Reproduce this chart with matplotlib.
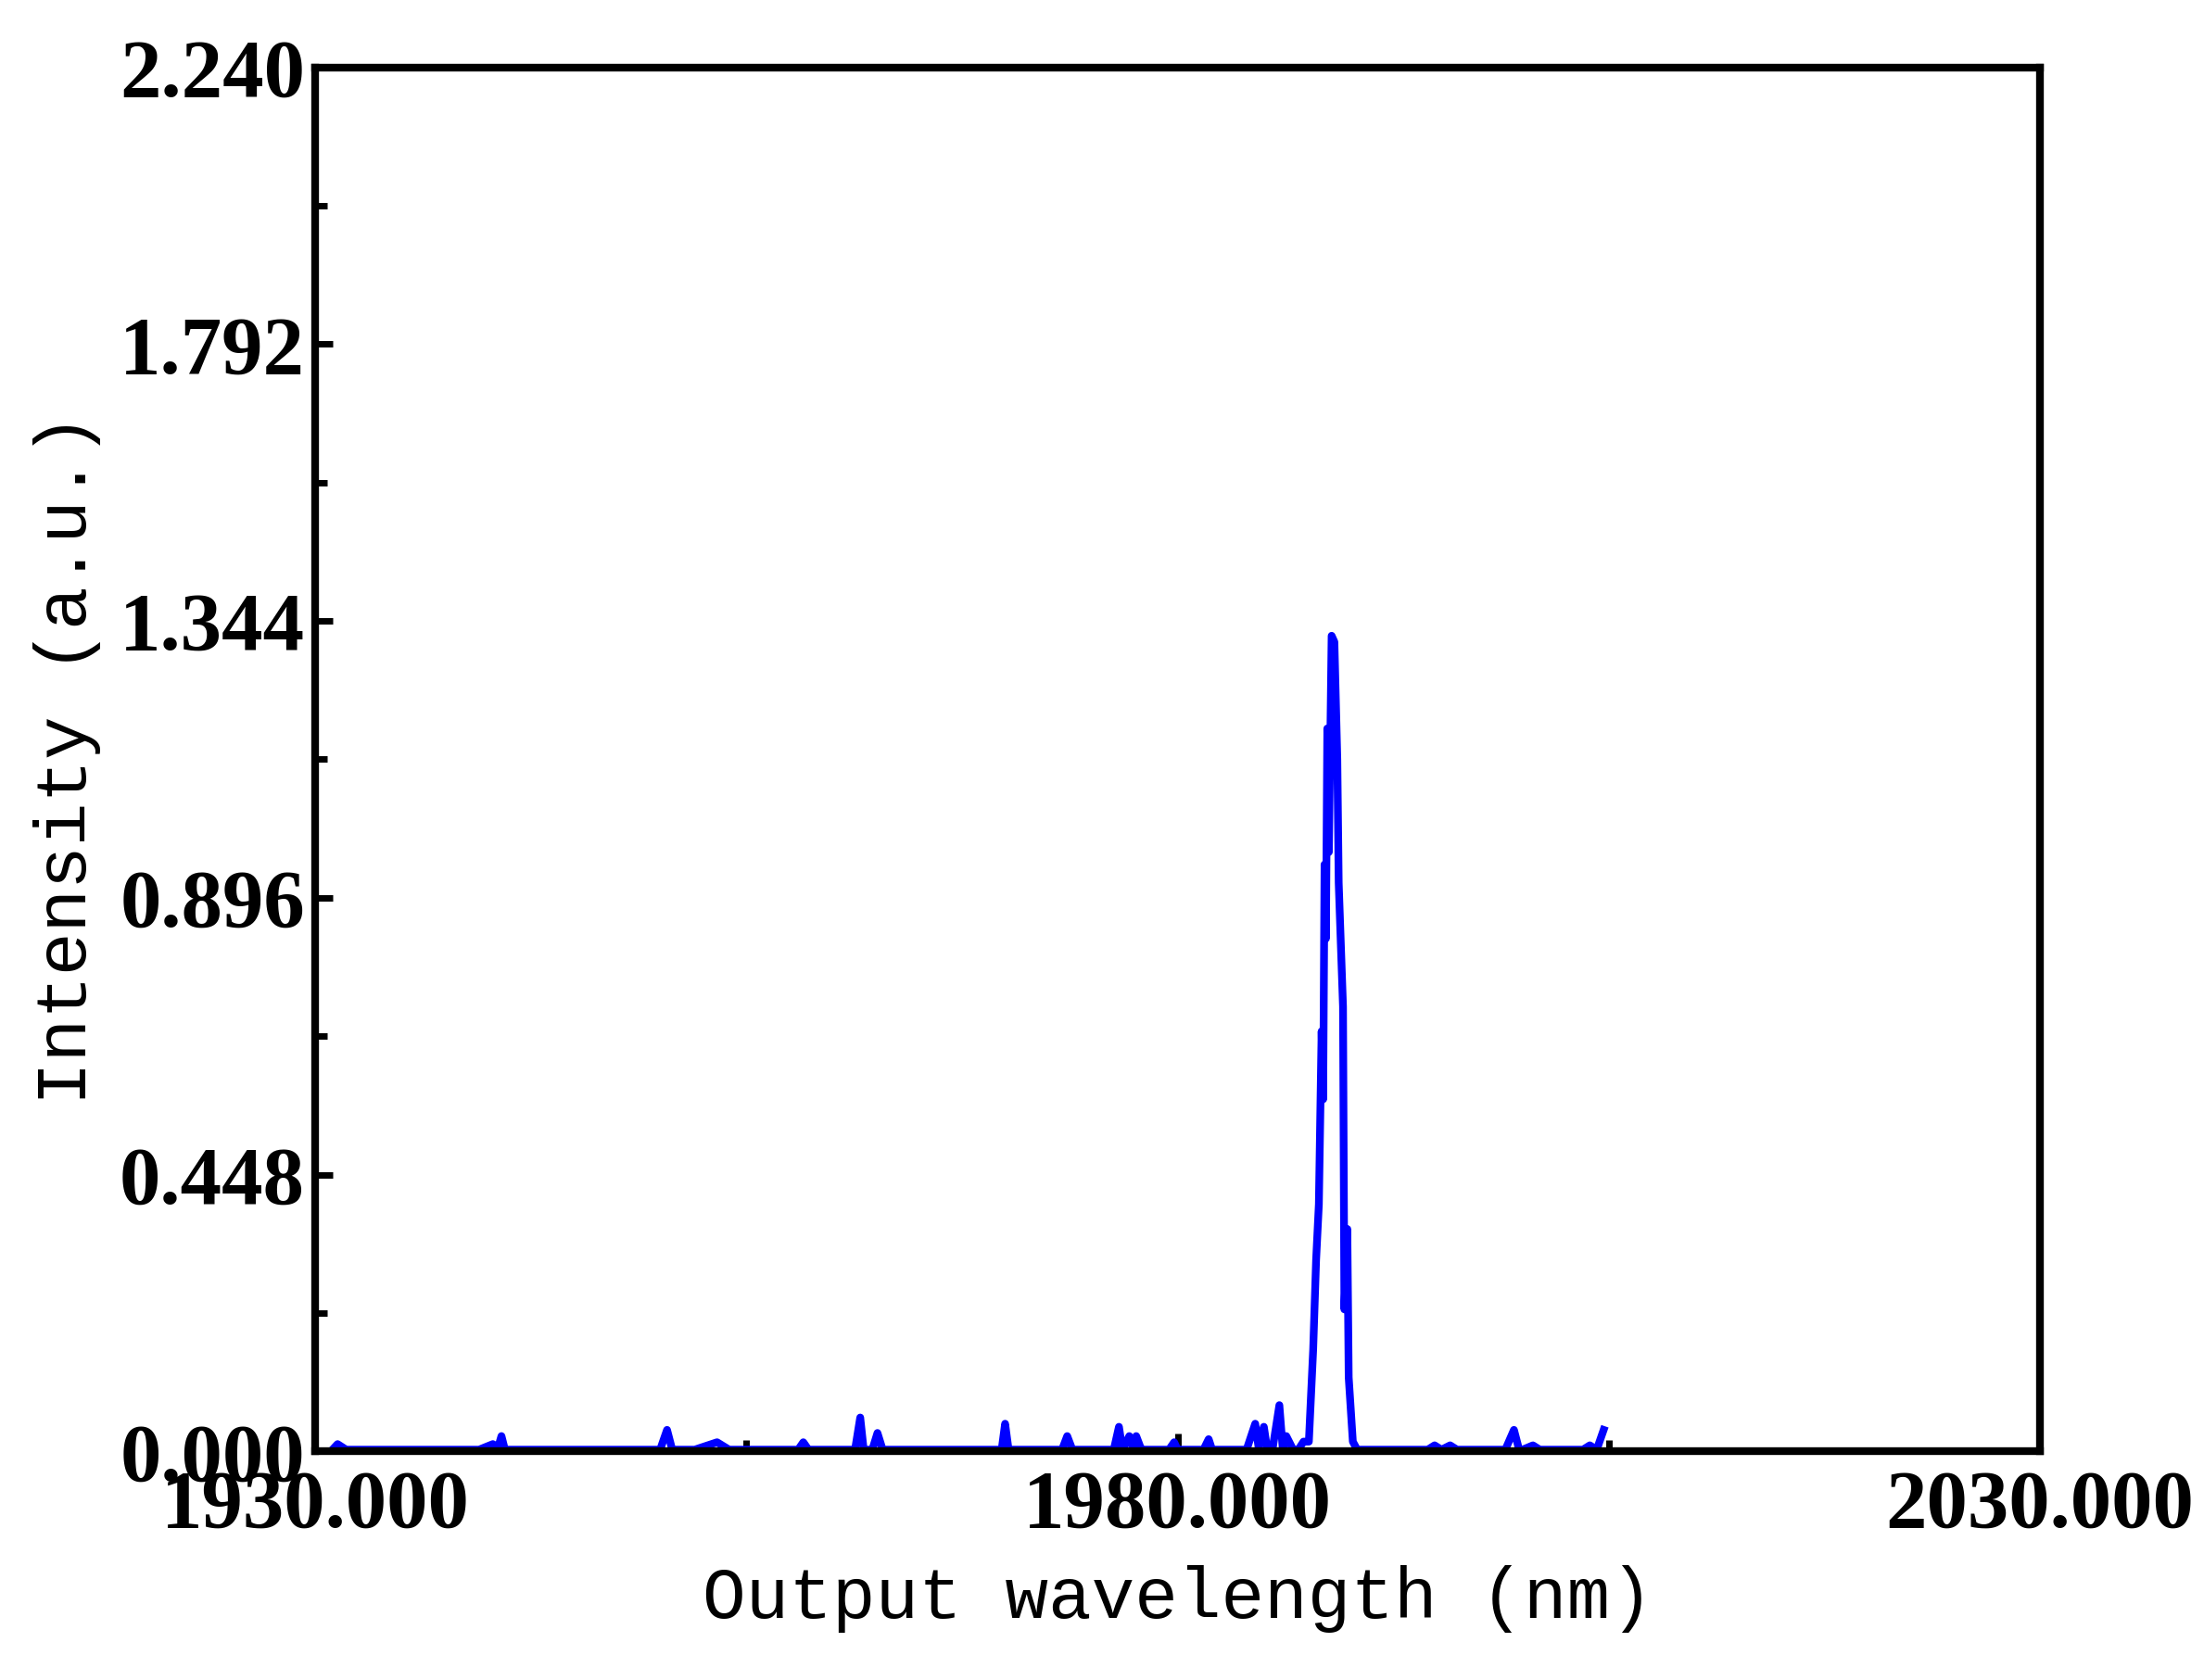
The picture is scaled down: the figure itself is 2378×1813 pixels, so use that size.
import matplotlib
matplotlib.use("Agg")
import matplotlib.pyplot as plt
import numpy as np

wavelength = [1931.0, 1931.3, 1931.8, 1939.5, 1940.3, 1940.6, 1940.8, 1941.0, 1950.0, 1950.4, 1950.7,
              1952.0, 1953.3, 1954.0, 1958.0, 1958.3, 1958.6, 1961.3, 1961.6, 1961.8, 1962.3, 1962.6, 1962.9,
              1969.8, 1970.0, 1970.2, 1973.3, 1973.6, 1973.9, 1976.3, 1976.6, 1976.8, 1977.2, 1977.4, 1977.6,
              1977.9, 1978.0, 1978.2, 1979.5, 1979.8, 1980.0, 1981.5, 1981.8, 1982.0, 1984.0, 1984.5, 1984.7,
              1985.0, 1985.2, 1985.5, 1985.9, 1986.1, 1986.3, 1986.7, 1987.0, 1987.3,
              1987.61, 1987.86, 1988.03, 1988.19, 1988.35, 1988.44, 1988.52, 1988.60, 1988.68, 1988.77,
              1988.93, 1989.09, 1989.26, 1989.34, 1989.59, 1989.67, 1989.84, 1989.92, 1990.16, 1990.41,
              1994.5, 1994.9, 1995.3, 1995.8, 1996.2, 1999.0, 1999.5, 1999.8, 2000.0, 2000.6, 2001.0,
              2003.5, 2003.9, 2004.3, 2004.7]
intensity = [0.003, 0.012, 0.003, 0.003, 0.012, 0.006, 0.025, 0.003, 0.003, 0.035, 0.003,
             0.003, 0.015, 0.003, 0.003, 0.015, 0.003, 0.003, 0.055, 0.003, 0.003, 0.030, 0.003,
             0.003, 0.045, 0.003, 0.003, 0.025, 0.003, 0.003, 0.040, 0.003, 0.025, 0.006, 0.025,
             0.003, 0.003, 0.003, 0.003, 0.015, 0.003, 0.003, 0.020, 0.003, 0.003, 0.045, 0.006,
             0.040, 0.003, 0.003, 0.075, 0.003, 0.025, 0.003, 0.003, 0.016,
             0.016, 0.165, 0.31, 0.40, 0.68, 0.57, 0.95, 0.83, 1.17, 0.97,
             1.32, 1.31, 1.12, 0.92, 0.72, 0.23, 0.36, 0.12, 0.016, 0.003,
             0.003, 0.010, 0.003, 0.010, 0.003, 0.003, 0.035, 0.003, 0.003, 0.010, 0.003,
             0.003, 0.010, 0.003, 0.035]

x_ticks = [1930, 1980, 2030]
x_ticklabels = ["1930.000", "1980.000", "2030.000"]
y_ticks = [0.0, 0.448, 0.896, 1.344, 1.792, 2.240]
y_ticklabels = ["0.000", "0.448", "0.896", "1.344", "1.792", "2.240"]

fig = plt.figure(figsize=(23.78, 18.13), dpi=100)
ax = fig.add_axes([0.143, 0.136, 0.7826, 0.824])
ax.plot(wavelength, intensity, color="#0000ff", lw=6, solid_joinstyle="round")
ax.set_xlim(1930, 2030)
ax.set_ylim(0, 2.24)
ax.set_xticks(x_ticks)
ax.set_xticklabels(x_ticklabels)
ax.set_yticks(y_ticks)
ax.set_yticklabels(y_ticklabels)
ax.set_xticks([1955, 2005], minor=True)
ax.set_yticks([0.224 + 0.448 * i for i in range(5)], minor=True)
for lab in ax.get_xticklabels() + ax.get_yticklabels():
    lab.set_fontfamily("Liberation Serif")
    lab.set_fontweight("bold")
    lab.set_fontsize(64)
ax.tick_params(which="major", direction="in", length=14, width=5)
ax.tick_params(axis="x", which="major", pad=14)
ax.tick_params(axis="y", which="major", pad=8)
ax.tick_params(which="minor", direction="in", length=9, width=5)
for s in ax.spines.values():
    s.set_linewidth(6)
ax.set_xlabel("Output wavelength (nm)", fontfamily="Liberation Mono", fontsize=56, labelpad=16)
ax.set_ylabel("Intensity (a.u.)", fontfamily="Liberation Mono", fontsize=56, labelpad=14)
fig.savefig("out.png", dpi=100)
